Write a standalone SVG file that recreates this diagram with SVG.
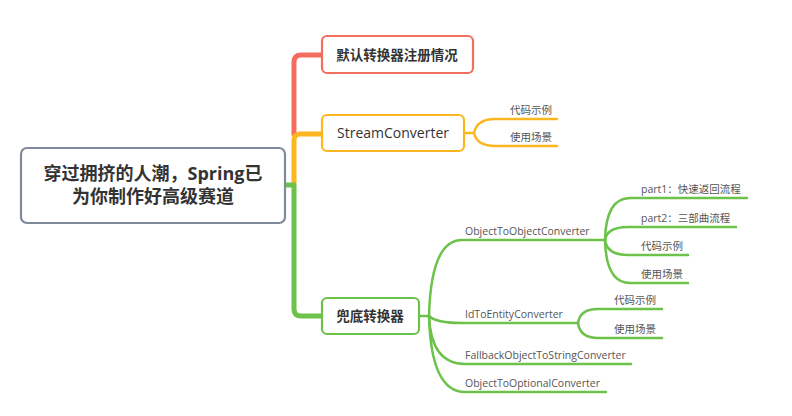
<svg xmlns="http://www.w3.org/2000/svg" width="792" height="416" viewBox="0 0 792 416">
<style>
.t{font-family:"Open Sans","Noto Sans CJK SC",sans-serif;}
.root{font-size:18px;font-weight:bold;fill:#333;text-anchor:middle;}
.main{font-size:13.5px;font-weight:bold;fill:#333;text-anchor:middle;}
.mainr{font-size:14px;fill:#333;text-anchor:middle;}
.sub{font-size:10.5px;fill:#555;}
.box{fill:#fff;stroke-width:2.2;}
.ln{fill:none;stroke-linecap:round;}
.g{stroke:#6cc24a;}
.o{stroke:#fbb620;}
.r{stroke:#f36e5f;}
</style>
<rect width="792" height="416" fill="#fff"/>
<g id="connectors">
  <path class="ln r" d="M294 134 V62 Q294 55 301 55 H322" stroke-width="5"/>
  <path class="ln o" d="M294 184 V140 Q294 134 300 134 H322" stroke-width="5"/>
  <path class="ln g" d="M285 185 H294 M294 185 V309 Q294 316 301 316 H322" stroke-width="5"/>
  <!-- stream subs -->
  <g class="ln o" stroke-width="2.5">
    <path d="M464 133 H474 Q477 119 495 119 H557"/>
    <path d="M474 133 Q477 146 495 146 H557"/>
  </g>
  <!-- fallback subs -->
  <g class="ln g" stroke-width="2.5">
    <path d="M419 316 H429 Q431 240 462 240 H605"/>
    <path d="M429 316 Q436 323 462 323 H578"/>
    <path d="M429 316 Q431 364 465 364 H631"/>
    <path d="M429 316 Q431 392 465 392 H606"/>
    <path d="M605 240 Q606 198 630 198 H747"/>
    <path d="M605 240 Q607 227 628 227 H736"/>
    <path d="M605 240 Q607 255 628 255 H688"/>
    <path d="M605 240 Q606 283 630 283 H688"/>
    <path d="M578 323 Q580 309 598 309 H662"/>
    <path d="M578 323 Q580 338 598 338 H662"/>
  </g>
</g>
<g id="root">
  <rect x="21" y="148" width="264" height="75" rx="6" fill="#fff" stroke="#7f8b9b" stroke-width="2.2"/>
  <text class="t root" x="153" y="180">穿过拥挤的人潮，Spring已</text>
  <text class="t root" x="153" y="203">为你制作好高级赛道</text>
</g>
<g id="n-default">
  <rect class="box" x="322" y="36" width="151" height="37" rx="5" stroke="#f36e5f"/>
  <text class="t main" x="397" y="60">默认转换器注册情况</text>
</g>
<g id="n-stream">
  <rect class="box" x="322" y="115" width="142" height="36" rx="5" stroke="#fbb620"/>
  <text class="t mainr" x="393" y="138">StreamConverter</text>
</g>
<g id="n-stream-code"><text class="t sub" x="510" y="114">代码示例</text></g>
<g id="n-stream-use"><text class="t sub" x="510" y="141">使用场景</text></g>
<g id="n-fallback">
  <rect class="box" x="322" y="298" width="97" height="36" rx="5" stroke="#6cc24a"/>
  <text class="t main" x="370" y="321">兜底转换器</text>
</g>
<g id="n-o2o"><text class="t sub" x="465" y="235">ObjectToObjectConverter</text></g>
<g id="n-part1"><text class="t sub" x="641" y="193">part1：快速返回流程</text></g>
<g id="n-part2"><text class="t sub" x="641" y="222">part2：三部曲流程</text></g>
<g id="n-o2o-code"><text class="t sub" x="641" y="250">代码示例</text></g>
<g id="n-o2o-use"><text class="t sub" x="641" y="278">使用场景</text></g>
<g id="n-id"><text class="t sub" x="465" y="318">IdToEntityConverter</text></g>
<g id="n-id-code"><text class="t sub" x="614" y="304">代码示例</text></g>
<g id="n-id-use"><text class="t sub" x="614" y="333">使用场景</text></g>
<g id="n-fb"><text class="t sub" x="465" y="359">FallbackObjectToStringConverter</text></g>
<g id="n-opt"><text class="t sub" x="465" y="387">ObjectToOptionalConverter</text></g>
</svg>
